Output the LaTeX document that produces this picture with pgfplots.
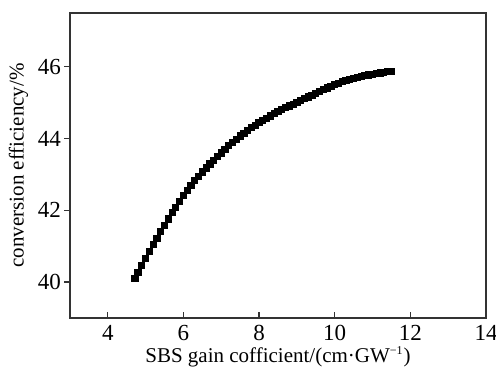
\documentclass[border=0pt]{standalone}
\usepackage{fontspec}
\setmainfont{Liberation Serif}
\usepackage{pgfplots}
\pgfplotsset{compat=1.18}
\begin{document}
\begin{tikzpicture}
\begin{axis}[
  scale only axis,
  width=208pt, height=152.5pt,
  xmin=3, xmax=14, ymin=39, ymax=47.5,
  xtick={4,6,8,10,12,14}, ytick={40,42,44,46},
  xtick pos=left, ytick pos=left,
  tick align=inside,
  major tick length=2.8pt,
  ytick style={xshift=-2.8pt},
  axis line style={line width=0.6pt, black!80},
  tick style={line width=0.6pt, black!80},
  /pgf/number format/assume math mode=true,
  ticklabel style={font=\fontsize{11.5}{13}\selectfont},
  yticklabel style={xshift=-1pt},
  xticklabel style={yshift=0pt},
  label style={font=\fontsize{10.5}{12}\selectfont},
  xlabel={SBS gain cofficient/(cm·GW\textsuperscript{\fontsize{6}{7}\selectfont −1})},
  ylabel={conversion efficiency/\%},
  xlabel style={yshift=4pt},
  ylabel style={yshift=-2pt},
]
\addplot[black, line width=1.2pt, mark=square*, mark size=1.2pt] coordinates {
(4.72,40.10)(4.80,40.27)(4.90,40.47)(5.00,40.66)(5.10,40.85)(5.20,41.04)
(5.30,41.22)(5.40,41.40)(5.50,41.58)(5.60,41.76)(5.70,41.93)(5.80,42.09)
(5.90,42.25)(6.00,42.41)(6.10,42.56)(6.20,42.70)(6.30,42.83)(6.40,42.95)
(6.50,43.07)(6.60,43.18)(6.70,43.29)(6.80,43.40)(6.90,43.50)(7.00,43.60)
(7.10,43.70)(7.20,43.80)(7.30,43.89)(7.40,43.98)(7.50,44.07)(7.60,44.15)
(7.70,44.23)(7.80,44.30)(7.90,44.37)(8.00,44.44)(8.10,44.51)(8.20,44.57)
(8.30,44.63)(8.40,44.69)(8.50,44.75)(8.60,44.80)(8.70,44.86)(8.80,44.91)
(8.90,44.96)(9.00,45.01)(9.10,45.06)(9.20,45.11)(9.30,45.16)(9.40,45.21)
(9.50,45.26)(9.60,45.31)(9.70,45.36)(9.80,45.41)(9.90,45.46)(10.00,45.50)
(10.10,45.54)(10.20,45.58)(10.30,45.61)(10.40,45.64)(10.50,45.67)(10.60,45.70)
(10.70,45.73)(10.80,45.75)(10.90,45.77)(11.00,45.79)(11.10,45.81)(11.20,45.83)
(11.30,45.85)(11.40,45.86)(11.50,45.88)
};
\end{axis}
\pgfresetboundingbox
\path (current axis.south west) ++(-35pt,-25pt) coordinate (bl);
\path (current axis.north east) ++(5pt,6.5pt) coordinate (tr);
\path (bl) rectangle (tr);
\end{tikzpicture}
\end{document}
